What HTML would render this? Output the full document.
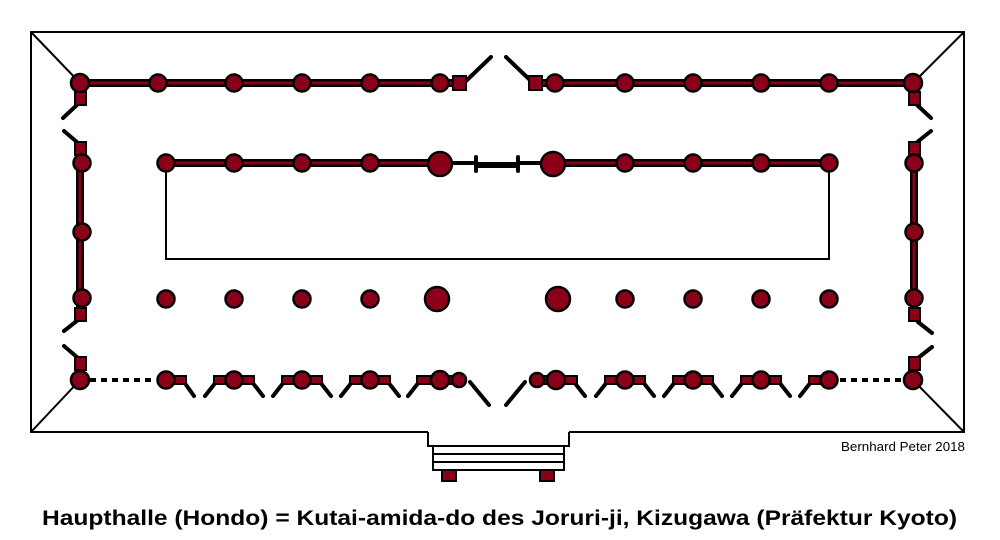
<!DOCTYPE html>
<html><head><meta charset="utf-8"><style>
html,body{margin:0;padding:0;background:#fff;width:1000px;height:540px;overflow:hidden}
svg{display:block}
</style></head><body>
<svg width="1000" height="540" viewBox="0 0 1000 540" xmlns="http://www.w3.org/2000/svg">
<g fill="none" stroke="#000" stroke-width="2">
<polyline points="428,432 31,432 31,32 964,32 964,432 569,432"/>
<polyline points="428,432 428,446 569,446 569,432"/>
<line x1="31" y1="32" x2="80" y2="83"/><line x1="964" y1="32" x2="913" y2="83"/>
<line x1="31" y1="432" x2="80" y2="380"/><line x1="964" y1="432" x2="913" y2="380"/>
<rect x="166" y="163" width="663" height="96"/>
<rect x="433" y="446" width="131" height="24"/>
<line x1="433" y1="454" x2="564" y2="454"/><line x1="433" y1="462" x2="564" y2="462"/>
</g>
<g fill="#8b0019" stroke="#000" stroke-width="2">
<rect x="442" y="470" width="14" height="11"/><rect x="540" y="470" width="14" height="11"/>
</g>
<g stroke-linecap="butt">
<g stroke="#000" stroke-width="8">
<line x1="80" y1="83" x2="460" y2="83"/><line x1="535" y1="83" x2="913" y2="83"/>
<line x1="166" y1="163" x2="440" y2="163"/><line x1="553" y1="163" x2="829" y2="163"/>
<line x1="80" y1="150" x2="80" y2="315"/><line x1="914" y1="150" x2="914" y2="315"/>
</g>
<g stroke="#8b0019" stroke-width="3">
<line x1="80" y1="83" x2="460" y2="83"/><line x1="535" y1="83" x2="913" y2="83"/>
<line x1="166" y1="163" x2="440" y2="163"/><line x1="553" y1="163" x2="829" y2="163"/>
<line x1="80" y1="150" x2="80" y2="315"/><line x1="914" y1="150" x2="914" y2="315"/>
</g>
</g>
<g stroke="#000" stroke-width="4" stroke-linecap="round" fill="none">
<line x1="466" y1="81" x2="491" y2="57"/><line x1="506" y1="57" x2="531" y2="81"/>
<line x1="450" y1="163" x2="476" y2="163"/><line x1="476" y1="166" x2="518" y2="166"/><line x1="518" y1="163" x2="545" y2="163"/>
<line x1="476" y1="157" x2="476" y2="171"/><line x1="518" y1="157" x2="518" y2="171"/>
<line x1="78" y1="104" x2="63" y2="118"/><line x1="64" y1="131" x2="78" y2="143"/>
<line x1="78" y1="320" x2="64" y2="331"/><line x1="64" y1="346" x2="78" y2="358"/>
<line x1="916" y1="104" x2="931" y2="118"/><line x1="931" y1="131" x2="916" y2="143"/>
<line x1="918" y1="322" x2="932" y2="333"/><line x1="932" y1="347" x2="918" y2="358"/>
<line x1="470" y1="382" x2="489" y2="405"/><line x1="525" y1="382" x2="506" y2="405"/>
<line x1="90" y1="380" x2="156" y2="380" stroke-dasharray="6,5" stroke-linecap="butt"/>
<line x1="923" y1="380" x2="839" y2="380" stroke-dasharray="6,5" stroke-linecap="butt"/>
<line x1="184" y1="382" x2="194" y2="396"/>
<line x1="216" y1="382" x2="205" y2="396"/><line x1="252" y1="382" x2="263" y2="396"/>
<line x1="284" y1="382" x2="273" y2="396"/><line x1="320" y1="382" x2="331" y2="396"/>
<line x1="352" y1="382" x2="341" y2="396"/><line x1="388" y1="382" x2="399" y2="396"/>
<line x1="419" y1="382" x2="408" y2="396"/>
<line x1="643" y1="382" x2="654" y2="396"/><line x1="607" y1="382" x2="596" y2="396"/>
<line x1="711" y1="382" x2="722" y2="396"/><line x1="675" y1="382" x2="664" y2="396"/>
<line x1="779" y1="382" x2="790" y2="396"/><line x1="743" y1="382" x2="732" y2="396"/>
<line x1="811" y1="382" x2="800" y2="396"/>
<line x1="574" y1="382" x2="585" y2="396"/>
</g>
<g fill="#8b0019" stroke="#000" stroke-width="2">
<rect x="166" y="376" width="20" height="8"/>
<rect x="214" y="376" width="40" height="8"/>
<rect x="282" y="376" width="40" height="8"/>
<rect x="350" y="376" width="40" height="8"/>
<rect x="417" y="376" width="42" height="8"/>
<rect x="537" y="376" width="40" height="8"/>
<rect x="605" y="376" width="40" height="8"/>
<rect x="673" y="376" width="40" height="8"/>
<rect x="741" y="376" width="40" height="8"/>
<rect x="809" y="376" width="20" height="8"/>
<rect x="453" y="76" width="13" height="14"/><rect x="529" y="76" width="13" height="14"/>
<rect x="75" y="92" width="11" height="13"/><rect x="75" y="142" width="11" height="13"/>
<rect x="75" y="308" width="11" height="13"/><rect x="75" y="357" width="11" height="13"/>
<rect x="909" y="92" width="11" height="13"/><rect x="909" y="142" width="11" height="13"/>
<rect x="909" y="308" width="11" height="13"/><rect x="909" y="357" width="11" height="13"/>
</g>
<g fill="#8b0019" stroke="#000" stroke-width="2.5">
<circle cx="80" cy="83" r="9"/><circle cx="158" cy="83" r="8.5"/><circle cx="234" cy="83" r="8.5"/><circle cx="302" cy="83" r="8.5"/><circle cx="370" cy="83" r="8.5"/><circle cx="440" cy="83" r="8.5"/>
<circle cx="555" cy="83" r="8.5"/><circle cx="625" cy="83" r="8.5"/><circle cx="693" cy="83" r="8.5"/><circle cx="761" cy="83" r="8.5"/><circle cx="829" cy="83" r="8.5"/><circle cx="913" cy="83" r="9"/>
<circle cx="166" cy="163" r="8.5"/><circle cx="234" cy="163" r="8.5"/><circle cx="302" cy="163" r="8.5"/><circle cx="370" cy="163" r="8.5"/><circle cx="440" cy="164" r="12"/>
<circle cx="553" cy="164" r="12"/><circle cx="625" cy="163" r="8.5"/><circle cx="693" cy="163" r="8.5"/><circle cx="761" cy="163" r="8.5"/><circle cx="829" cy="163" r="8.5"/>
<circle cx="82" cy="163" r="8.5"/><circle cx="82" cy="232" r="8.5"/><circle cx="82" cy="298" r="8.5"/>
<circle cx="914" cy="163" r="8.5"/><circle cx="914" cy="232" r="8.5"/><circle cx="914" cy="298" r="8.5"/>
<circle cx="166" cy="299" r="8.5"/><circle cx="234" cy="299" r="8.5"/><circle cx="302" cy="299" r="8.5"/><circle cx="370" cy="299" r="8.5"/><circle cx="437" cy="299" r="12"/>
<circle cx="558" cy="299" r="12"/><circle cx="625" cy="299" r="8.5"/><circle cx="693" cy="299" r="8.5"/><circle cx="761" cy="299" r="8.5"/><circle cx="829" cy="299" r="8.5"/>
<circle cx="80" cy="380" r="9"/><circle cx="166" cy="380" r="8.5"/><circle cx="234" cy="380" r="8.5"/><circle cx="302" cy="380" r="8.5"/><circle cx="370" cy="380" r="8.5"/><circle cx="440" cy="380" r="9"/><circle cx="459" cy="380" r="7"/>
<circle cx="537" cy="380" r="7"/><circle cx="556" cy="380" r="9"/><circle cx="625" cy="380" r="8.5"/><circle cx="693" cy="380" r="8.5"/><circle cx="761" cy="380" r="8.5"/><circle cx="829" cy="380" r="8.5"/><circle cx="913" cy="380" r="9"/>
</g>
<text x="841" y="451" font-family="Liberation Sans, sans-serif" font-size="12.5" textLength="124" lengthAdjust="spacingAndGlyphs" fill="#000">Bernhard Peter 2018</text>
<text x="42" y="525" font-family="Liberation Sans, sans-serif" font-size="21" font-weight="bold" textLength="915" lengthAdjust="spacingAndGlyphs" fill="#000">Haupthalle (Hondo) = Kutai-amida-do des Joruri-ji, Kizugawa (Präfektur Kyoto)</text>
</svg>
</body></html>
